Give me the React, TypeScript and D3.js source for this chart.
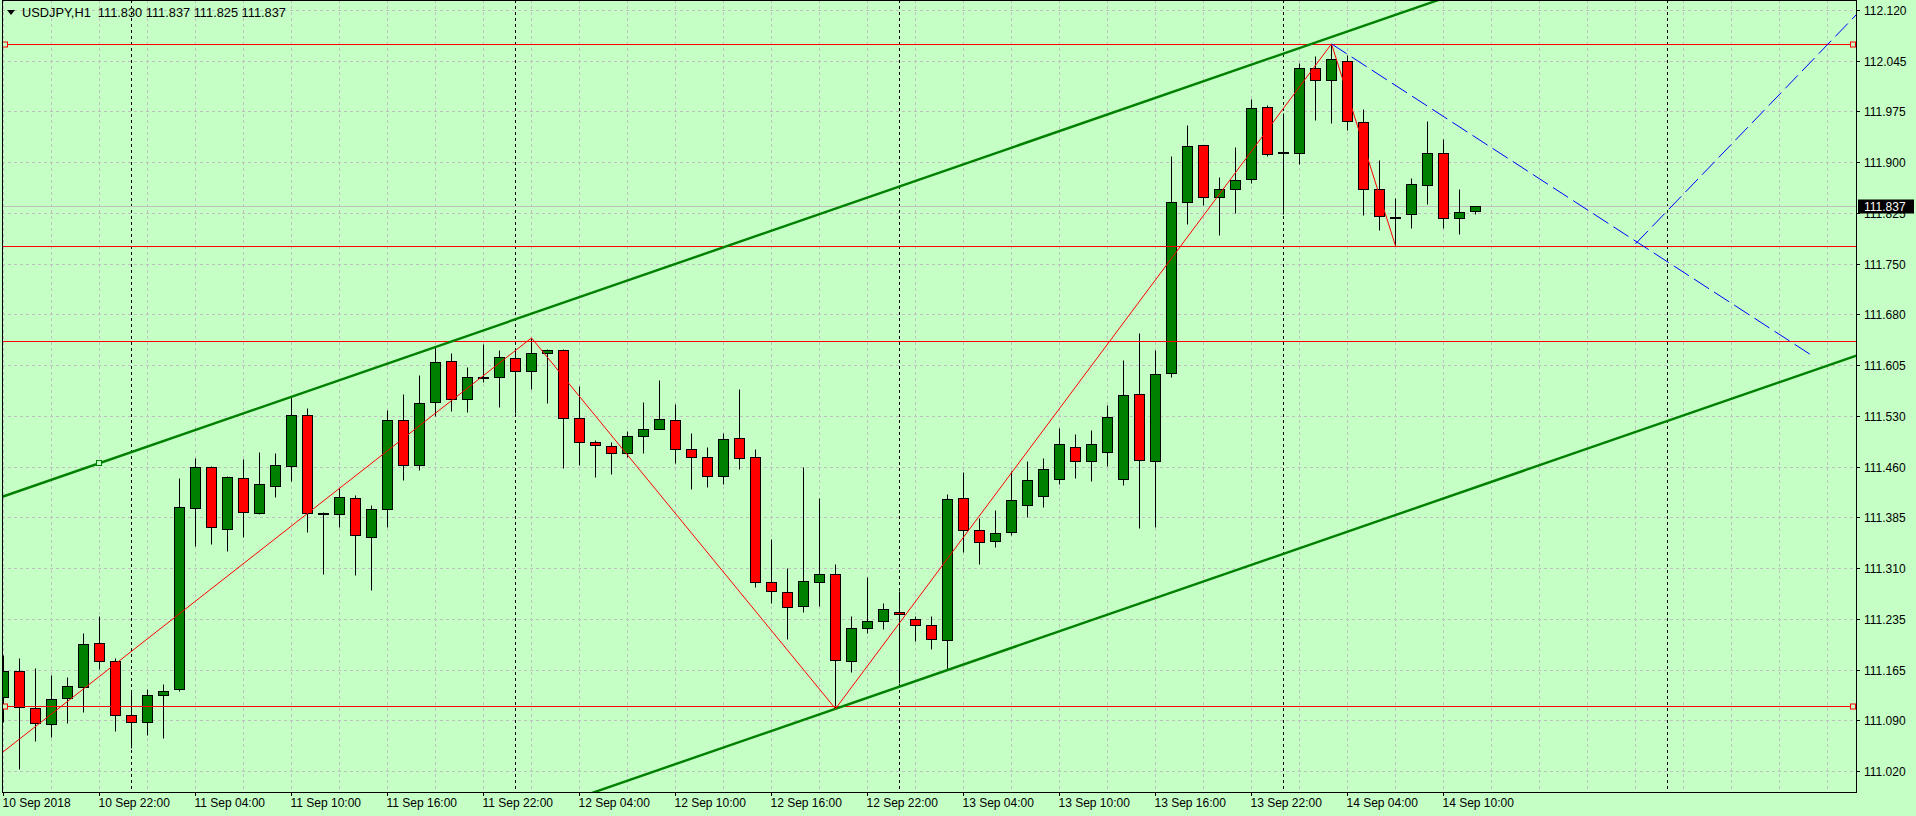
import React, { useEffect, useRef } from "react";
import * as d3 from "d3";

// USDJPY H1 bars, 10 Sep 2018 16:00 -> 14 Sep 2018 12:00
const opens = [
  111.127, 111.165, 111.111, 111.088, 111.126, 111.141, 111.205, 111.179, 111.101, 111.091,
  111.13, 111.139, 111.4, 111.459, 111.37, 111.444, 111.393, 111.432, 111.461, 111.535,
  111.393, 111.391, 111.415, 111.358, 111.399, 111.527, 111.462, 111.553, 111.613, 111.558,
  111.59, 111.59, 111.617, 111.598, 111.624, 111.629, 111.53, 111.496, 111.49, 111.48,
  111.504, 111.514, 111.527, 111.485, 111.474, 111.446, 111.501, 111.474, 111.293, 111.279,
  111.258, 111.293, 111.305, 111.179, 111.227, 111.237, 111.25, 111.24, 111.231, 111.209,
  111.415, 111.368, 111.352, 111.365, 111.404, 111.418, 111.442, 111.488, 111.468, 111.481,
  111.442, 111.565, 111.468, 111.595, 111.842, 111.925, 111.85, 111.861, 111.876, 111.98,
  111.915, 111.913, 112.036, 112.019, 112.046, 111.958, 111.861, 111.821, 111.825, 111.867,
  111.913, 111.819, 111.83,
];
const highs = [
  111.188, 111.183, 111.169, 111.159, 111.156, 111.22, 111.244, 111.183, 111.134, 111.139,
  111.146, 111.444, 111.472, 111.461, 111.446, 111.471, 111.481, 111.48, 111.561, 111.545,
  111.394, 111.429, 111.419, 111.404, 111.542, 111.565, 111.592, 111.633, 111.624, 111.604,
  111.637, 111.629, 111.629, 111.646, 111.63, 111.63, 111.577, 111.498, 111.496, 111.511,
  111.553, 111.585, 111.55, 111.509, 111.488, 111.509, 111.572, 111.485, 111.355, 111.313,
  111.459, 111.415, 111.319, 111.244, 111.3, 111.263, 111.28, 111.244, 111.244, 111.42,
  111.452, 111.386, 111.397, 111.454, 111.468, 111.472, 111.516, 111.507, 111.513, 111.549,
  111.614, 111.653, 111.629, 111.909, 111.954, 111.925, 111.879, 111.922, 111.991, 111.983,
  111.971, 112.043, 112.053, 112.071, 112.055, 111.977, 111.903, 111.848, 111.877, 111.96,
  111.934, 111.861, 111.837,
];
const lows = [
  111.091, 111.023, 111.063, 111.069, 111.089, 111.105, 111.167, 111.078, 111.053, 111.072,
  111.068, 111.136, 111.345, 111.348, 111.338, 111.358, 111.391, 111.416, 111.439, 111.365,
  111.305, 111.373, 111.303, 111.282, 111.373, 111.441, 111.455, 111.533, 111.54, 111.539,
  111.582, 111.546, 111.537, 111.572, 111.552, 111.458, 111.462, 111.445, 111.449, 111.474,
  111.48, 111.514, 111.465, 111.428, 111.431, 111.435, 111.457, 111.286, 111.263, 111.211,
  111.25, 111.258, 111.11, 111.163, 111.22, 111.225, 111.147, 111.208, 111.196, 111.166,
  111.337, 111.319, 111.344, 111.361, 111.387, 111.402, 111.435, 111.444, 111.439, 111.461,
  111.433, 111.371, 111.373, 111.59, 111.811, 111.838, 111.795, 111.827, 111.87, 111.909,
  111.825, 111.897, 111.961, 111.957, 111.947, 111.824, 111.802, 111.779, 111.805, 111.84,
  111.805, 111.796, 111.825,
];
const closes = [
  111.165, 111.112, 111.089, 111.124, 111.143, 111.204, 111.179, 111.101, 111.091, 111.13,
  111.136, 111.402, 111.459, 111.373, 111.445, 111.394, 111.435, 111.462, 111.535, 111.393,
  111.393, 111.416, 111.361, 111.399, 111.527, 111.462, 111.552, 111.611, 111.558, 111.59,
  111.59, 111.618, 111.598, 111.624, 111.629, 111.53, 111.496, 111.491, 111.48, 111.504,
  111.514, 111.529, 111.485, 111.474, 111.446, 111.5, 111.472, 111.293, 111.28, 111.257,
  111.295, 111.305, 111.18, 111.227, 111.237, 111.254, 111.247, 111.231, 111.211, 111.413,
  111.368, 111.351, 111.364, 111.412, 111.441, 111.457, 111.493, 111.468, 111.493, 111.532,
  111.564, 111.47, 111.594, 111.842, 111.923, 111.85, 111.861, 111.874, 111.978, 111.912,
  111.915, 112.036, 112.019, 112.049, 111.96, 111.861, 111.822, 111.821, 111.868, 111.913,
  111.819, 111.828, 111.837,
];

const timeLabels = [
  "10 Sep 2018", "10 Sep 22:00", "11 Sep 04:00", "11 Sep 10:00", "11 Sep 16:00",
  "11 Sep 22:00", "12 Sep 04:00", "12 Sep 10:00", "12 Sep 16:00", "12 Sep 22:00",
  "13 Sep 04:00", "13 Sep 10:00", "13 Sep 16:00", "13 Sep 22:00", "14 Sep 04:00",
  "14 Sep 10:00",
];
// bottom to top
const priceLabels = [
  "111.020", "111.090", "111.165", "111.235", "111.310", "111.385", "111.460", "111.530",
  "111.605", "111.680", "111.750", "111.825", "111.900", "111.975", "112.045", "112.120",
];

const title = "USDJPY,H1  111.830 111.837 111.825 111.837";
const bid = 111.837;
const daySeparators = [8, 32, 56, 80, 104];
const hLines = [112.071, 111.779, 111.642, 111.114];
const selectedHLines = [112.071, 111.114];
const zigzag: [number, number][] = [
  [-1, 111.03], [33, 111.646], [52, 111.11], [83, 112.071], [87, 111.779],
];
// equidistant channel: two anchors per line
const channelTop: [number, number][] = [[6, 111.465], [52, 111.833]];
const channelBottom: [number, number][] = [[6, 110.742], [52, 111.11]];
const blueLines: [number, number][][] = [
  [[83, 112.071], [113, 111.621]],
  [[102, 111.782], [117, 112.142]],
];

const App: React.FC = () => {
  const chartRef = useRef<HTMLDivElement>(null);

  useEffect(() => {
    const width = 1916;
    const height = 816;
    const plot = { left: 2, top: 0, right: 1856, bottom: 792 };
    const font = "'Liberation Sans', Arial, sans-serif";

    const svg = d3
      .select(chartRef.current)
      .append("svg")
      .attr("width", width)
      .attr("height", height)
      .style("display", "block");

    svg.append("rect").attr("width", width).attr("height", height).attr("fill", "#c5ffc5");

    // bar index -> x, price -> y
    const x = d3.scaleLinear().domain([0, 1]).range([3.5, 19.5]);
    const y = d3.scaleLinear().domain([111.02, 112.12]).range([771, 10]);
    const py = (v: number) => Math.round(y(v)) + 0.5;
    const tickValues = priceLabels.map((_, i) => 111.02 + (i * 1.1) / 15);

    svg
      .append("defs")
      .append("clipPath")
      .attr("id", "plotClip")
      .append("rect")
      .attr("x", plot.left)
      .attr("y", plot.top)
      .attr("width", plot.right - plot.left)
      .attr("height", plot.bottom - plot.top);

    const g = svg.append("g").attr("clip-path", "url(#plotClip)");

    // grid
    tickValues.forEach((v) => {
      g.append("line")
        .attr("x1", plot.left)
        .attr("x2", plot.right)
        .attr("y1", py(v))
        .attr("y2", py(v))
        .attr("stroke", "#c0c0c0")
        .attr("stroke-dasharray", "3,3");
    });
    d3.range(0, 117, 3).forEach((b) => {
      g.append("line")
        .attr("x1", x(b))
        .attr("x2", x(b))
        .attr("y1", plot.top)
        .attr("y2", plot.bottom)
        .attr("stroke", "#c0c0c0")
        .attr("stroke-dasharray", "3,3");
    });

    // day separators
    daySeparators.forEach((b) => {
      g.append("line")
        .attr("x1", x(b))
        .attr("x2", x(b))
        .attr("y1", plot.top)
        .attr("y2", plot.bottom)
        .attr("stroke", "#000")
        .attr("stroke-dasharray", "3,3");
    });

    // bid line
    g.append("line")
      .attr("x1", plot.left)
      .attr("x2", plot.right)
      .attr("y1", py(bid))
      .attr("y2", py(bid))
      .attr("stroke", "#c0c0c0");

    // candles
    opens.forEach((o, i) => {
      const c = closes[i];
      const xc = x(i);
      g.append("line")
        .attr("x1", xc)
        .attr("x2", xc)
        .attr("y1", py(highs[i]))
        .attr("y2", py(lows[i]))
        .attr("stroke", "#000");
      const top = py(Math.max(o, c));
      const bot = py(Math.min(o, c));
      g.append("rect")
        .attr("x", xc - 5)
        .attr("y", top)
        .attr("width", 10)
        .attr("height", Math.max(1, bot - top))
        .attr("fill", c > o ? "#008000" : c < o ? "#ff0000" : "#000")
        .attr("stroke", "#000");
    });

    // horizontal lines
    hLines.forEach((v) => {
      g.append("line")
        .attr("x1", plot.left)
        .attr("x2", plot.right)
        .attr("y1", py(v))
        .attr("y2", py(v))
        .attr("stroke", "#ff0000");
    });

    // channel lines, extended both ways
    const extend = (pts: [number, number][]) => {
      const [[b0, p0], [b1, p1]] = pts;
      const s = (p1 - p0) / (b1 - b0);
      return [
        [-10, p0 + s * (-10 - b0)],
        [130, p0 + s * (130 - b0)],
      ] as [number, number][];
    };
    const line = d3
      .line<[number, number]>()
      .x((d) => x(d[0]))
      .y((d) => y(d[1]));
    [channelTop, channelBottom].forEach((pts) => {
      g.append("path")
        .attr("d", line(extend(pts)))
        .attr("fill", "none")
        .attr("stroke", "#008000")
        .attr("stroke-width", 2.4);
    });

    // zigzag
    g.append("path")
      .attr("d", line(zigzag))
      .attr("fill", "none")
      .attr("stroke", "#ff0000")
      .attr("stroke-width", 1);

    // blue dashed projections
    blueLines.forEach((pts) => {
      g.append("path")
        .attr("d", line(pts))
        .attr("fill", "none")
        .attr("stroke", "#0000ff")
        .attr("stroke-width", 1)
        .attr("stroke-dasharray", "18,6");
    });

    // selection markers
    selectedHLines.forEach((v) => {
      [plot.left + 3, plot.right - 3].forEach((mx) => {
        g.append("rect")
          .attr("x", mx - 2.5)
          .attr("y", py(v) - 2.5)
          .attr("width", 5)
          .attr("height", 5)
          .attr("fill", "#c5ffc5")
          .attr("stroke", "#ff0000");
      });
    });
    g.append("rect")
      .attr("x", x(channelTop[0][0]) - 3)
      .attr("y", py(channelTop[0][1]) - 3)
      .attr("width", 5)
      .attr("height", 5)
      .attr("fill", "#c5ffc5")
      .attr("stroke", "#008000");

    // frame
    svg.append("rect")
      .attr("x", plot.left + 0.5)
      .attr("y", plot.top + 0.5)
      .attr("width", plot.right - plot.left)
      .attr("height", plot.bottom - plot.top)
      .attr("fill", "none")
      .attr("stroke", "#000");

    // price axis
    tickValues.forEach((v, i) => {
      svg.append("line")
        .attr("x1", plot.right)
        .attr("x2", plot.right + 4)
        .attr("y1", py(v))
        .attr("y2", py(v))
        .attr("stroke", "#000");
      svg.append("text")
        .attr("x", plot.right + 8)
        .attr("y", py(v))
        .attr("dy", "0.35em")
        .attr("font-family", font)
        .attr("font-size", 12)
        .attr("fill", "#000")
        .text(priceLabels[i]);
    });

    // bid price box
    svg.append("rect")
      .attr("x", plot.right + 2)
      .attr("y", py(bid) - 7)
      .attr("width", 56)
      .attr("height", 14)
      .attr("fill", "#000");
    svg.append("text")
      .attr("x", plot.right + 8)
      .attr("y", py(bid))
      .attr("dy", "0.35em")
      .attr("font-family", font)
      .attr("font-size", 12)
      .attr("fill", "#fff")
      .text(bid.toFixed(3));

    // time axis
    timeLabels.forEach((t, i) => {
      const tx = x(i * 6);
      svg.append("line")
        .attr("x1", tx)
        .attr("x2", tx)
        .attr("y1", plot.bottom)
        .attr("y2", plot.bottom + 4)
        .attr("stroke", "#000");
      svg.append("text")
        .attr("x", tx - 1)
        .attr("y", 803)
        .attr("dy", "0.35em")
        .attr("font-family", font)
        .attr("font-size", 12)
        .attr("fill", "#000")
        .text(t);
    });

    // title
    svg.append("path").attr("d", "M7,10L15,10L11,15Z").attr("fill", "#000");
    svg.append("text")
      .attr("x", 22)
      .attr("y", 13)
      .attr("dy", "0.35em")
      .attr("font-family", font)
      .attr("font-size", 12.8)
      .attr("fill", "#000")
      .attr("xml:space", "preserve")
      .style("white-space", "pre")
      .text(title);

    return () => {
      d3.select(chartRef.current).select("svg").remove();
    };
  }, []);

  return <div ref={chartRef} style={{ position: "fixed", left: 0, top: 0 }}></div>;
};

export default App;
